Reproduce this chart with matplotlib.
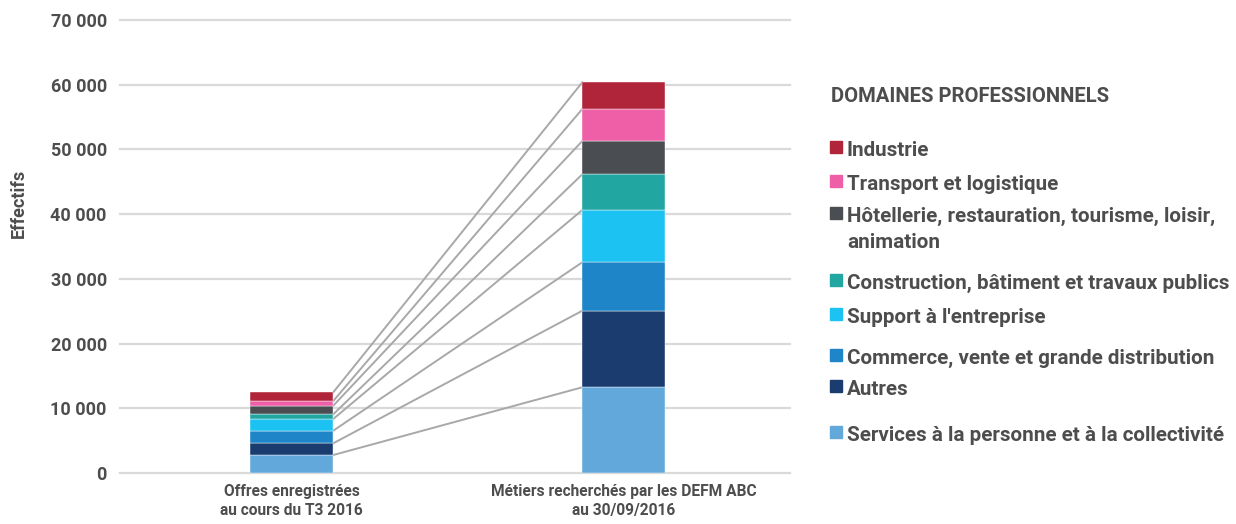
import matplotlib.pyplot as plt
from matplotlib.patches import Rectangle
from matplotlib.ticker import FuncFormatter
import numpy as np

plt.rcParams['font.family'] = ['Roboto', 'DejaVu Sans']

# categories, from bottom of stack to top
domaines = [
    "Services à la personne et à la collectivité",
    "Autres",
    "Commerce, vente et grande distribution",
    "Support à l'entreprise",
    "Construction, bâtiment et travaux publics",
    "Hôtellerie, restauration, tourisme, loisir,\nanimation",
    "Transport et logistique",
    "Industrie",
]
couleurs = ["#62a8db", "#1a3c6e", "#1e86c8", "#1bc2f2",
            "#22a6a2", "#4a4d51", "#ef5fa7", "#b0253a"]

barres = ["Offres enregistrées\nau cours du T3 2016",
          "Métiers recherchés par les DEFM ABC\nau 30/09/2016"]
offres = [2780, 1810, 1950, 1810, 720, 1330, 730, 1340]
metiers = [13250, 11830, 7490, 8080, 5520, 5140, 4950, 4130]

txt = "#4d4d4d"
fw = "bold"
W, H = 1236, 524
fig = plt.figure(figsize=(W / 100, H / 100), dpi=100)
ax = fig.add_axes([120 / W, 51 / H, 670 / W, 453 / H])

width = 0.25
xpos = np.array([0, 1])
data = np.array([offres, metiers])  # shape (2, 8)
bottoms = np.zeros(2)
for i in range(len(domaines)):
    ax.bar(xpos, data[:, i], width, bottom=bottoms, color=couleurs[i],
           edgecolor="white", linewidth=0.3, zorder=3)
    tops = bottoms + data[:, i]
    ax.plot([xpos[0] + width / 2, xpos[1] - width / 2], tops,
            color="#a8a8a8", lw=1.4, zorder=2)
    bottoms = tops

ax.set_xlim(-0.517, 1.50)
ax.set_ylim(0, 70000)
ax.set_yticks(np.arange(0, 70001, 10000))
ax.yaxis.set_major_formatter(FuncFormatter(lambda v, p: f"{int(v):,}".replace(",", " ")))
ax.grid(axis="y", color="#d9d9d9", lw=1.6, zorder=0)
for line in ax.get_ygridlines():
    line.set_clip_on(False)
for s in ax.spines.values():
    s.set_visible(False)
ax.tick_params(axis="y", length=0, pad=9.5, labelsize=13, labelcolor=txt)
ax.tick_params(axis="x", length=0, pad=8, labelsize=11.2, labelcolor=txt)
for lab in ax.get_yticklabels():
    lab.set_fontweight(fw)
ax.set_xticks(xpos)
ax.set_xticklabels(barres, fontweight=fw, linespacing=1.3)
ax.set_ylabel("Effectifs", fontsize=13, color=txt, fontweight=fw)
ax.yaxis.set_label_coords(-0.137, 0.595)

# legend, drawn by hand to keep the uneven spacing
fig.text(831 / W, 1 - 102 / H, "DOMAINES PROFESSIONNELS", fontsize=14.6,
         color=txt, fontweight=fw, va="baseline")
baselines = [441, 395, 364, 323, 289, 222, 190, 156]
for lab, col, yb in zip(domaines, couleurs, baselines):
    fig.patches.append(Rectangle((830 / W, 1 - (yb - 3) / H), 12 / W, 12 / H,
                                 transform=fig.transFigure, color=col, figure=fig))
    for k, part in enumerate(lab.split("\n")):
        fig.text(847 / W, 1 - (yb + 26 * k) / H, part, fontsize=14.9,
                 color=txt, fontweight=fw, va="baseline")

fig.savefig("out.png", dpi=100)
